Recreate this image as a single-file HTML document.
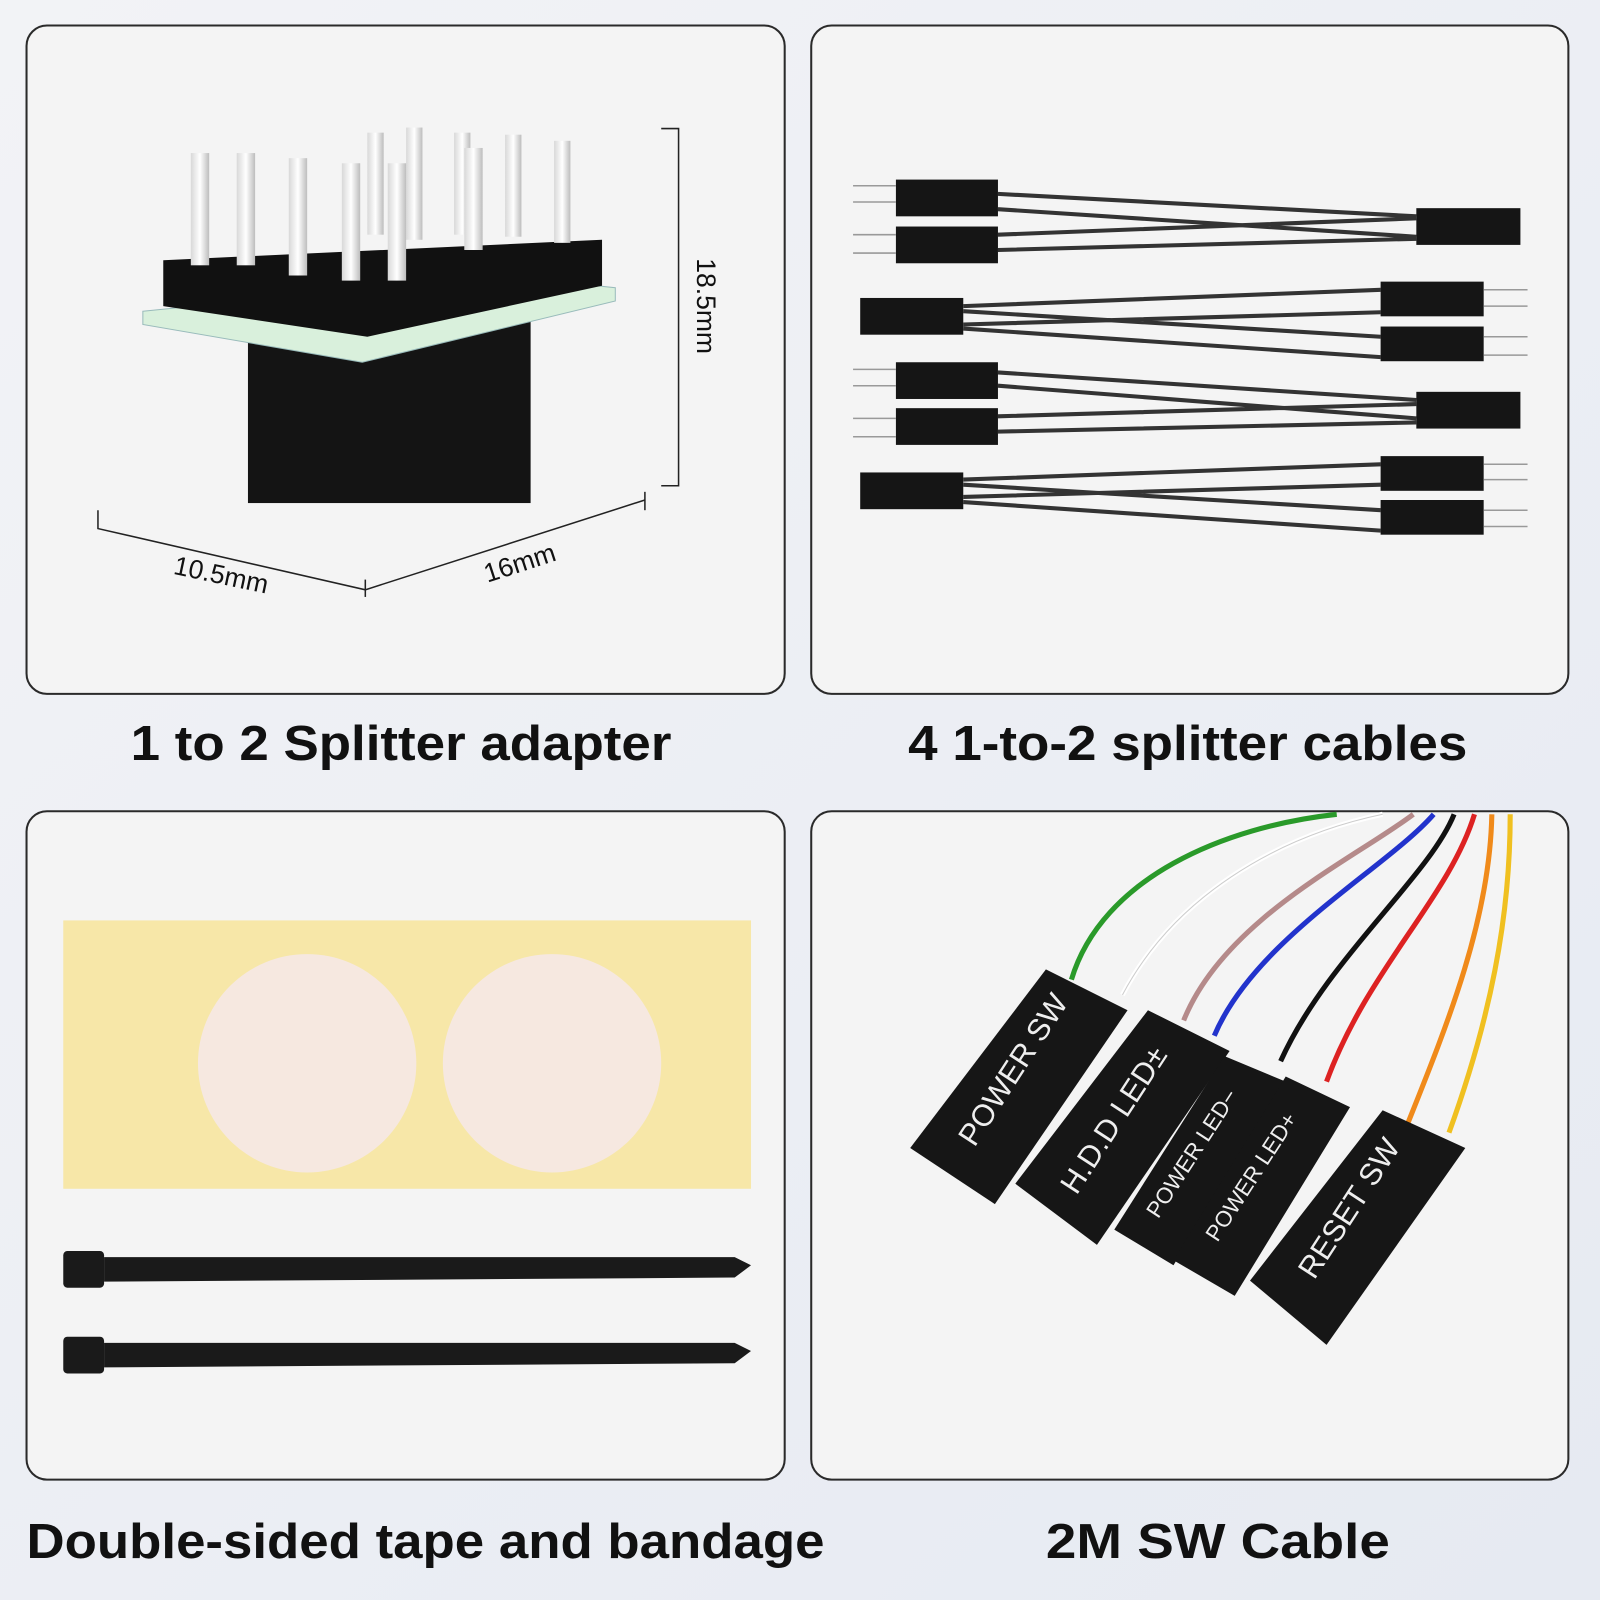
<!DOCTYPE html>
<html><head><meta charset="utf-8"><style>
html,body{margin:0;padding:0;width:1600px;height:1600px;overflow:hidden;background:#eef0f5}
svg{display:block}
text{font-family:"Liberation Sans",sans-serif}
</style></head><body>
<svg width="1600" height="1600" viewBox="0 0 1568 1568" xmlns="http://www.w3.org/2000/svg">
<defs>
<linearGradient id="bg" x1="0" y1="0" x2="1" y2="1"><stop offset="0" stop-color="#f2f3f6"/><stop offset="1" stop-color="#e6eaf2"/></linearGradient>
<linearGradient id="pin" x1="0" x2="1"><stop offset="0" stop-color="#d8d8d8"/><stop offset="0.5" stop-color="#ffffff"/><stop offset="1" stop-color="#bdbdbd"/></linearGradient>
</defs>
<rect width="1568" height="1568" fill="url(#bg)"/>
<g fill="#f4f4f4" stroke="#2a2a2a" stroke-width="2">
<rect x="26" y="25" width="743" height="655" rx="20"/>
<rect x="795" y="25" width="742" height="655" rx="20"/>
<rect x="26" y="795" width="743" height="655" rx="20"/>
<rect x="795" y="795" width="742" height="655" rx="20"/>
</g>
<g font-weight="bold" font-size="48" fill="#111" lengthAdjust="spacingAndGlyphs">
<text x="128" y="745" textLength="530" lengthAdjust="spacingAndGlyphs">1 to 2 Splitter adapter</text>
<text x="890" y="745" textLength="548" lengthAdjust="spacingAndGlyphs">4 1-to-2 splitter cables</text>
<text x="26" y="1527" textLength="782" lengthAdjust="spacingAndGlyphs">Double-sided tape and bandage</text>
<text x="1025" y="1527" textLength="337" lengthAdjust="spacingAndGlyphs">2M SW Cable</text>
</g>
<!-- adapter -->
<rect x="243" y="310" width="277" height="183" fill="#141414"/>
<polygon points="140,305 490,270 603,282 603,295 355,355 140,318" fill="#d9f0dc" stroke="#9bb"/>
<polygon points="160,255 590,235 590,280 360,330 160,300" fill="#111"/>
<g fill="url(#pin)">
<rect x="187" y="150" width="18" height="110"/><rect x="232" y="150" width="18" height="110"/><rect x="283" y="155" width="18" height="115"/><rect x="335" y="160" width="18" height="115"/>
<rect x="360" y="130" width="16" height="100"/><rect x="398" y="125" width="16" height="110"/><rect x="445" y="130" width="16" height="100"/><rect x="495" y="132" width="16" height="100"/><rect x="543" y="138" width="16" height="100"/>
<rect x="380" y="160" width="18" height="115"/><rect x="455" y="145" width="18" height="100"/>
</g>
<g stroke="#222" stroke-width="1.5" fill="none">
<path d="M648 126 H665 V476 H648"/><path d="M96 500 V518 L358 578 L632 490"/><path d="M358 568 V585"/><path d="M632 482 V500"/>
</g>
<text x="683" y="300" font-size="26" transform="rotate(90 683 300)" text-anchor="middle" fill="#111">18.5mm</text>
<text x="215" y="572" font-size="26" transform="rotate(12 215 572)" text-anchor="middle" fill="#111">10.5mm</text>
<text x="512" y="560" font-size="26" transform="rotate(-18 512 560)" text-anchor="middle" fill="#111">16mm</text>
<!-- splitter cables -->
<g stroke="#333" stroke-width="4" fill="none">
<path d="M978 190 L1388 212 M978 205 L1388 232 M978 230 L1388 214 M978 245 L1388 234"/>
<path d="M944 300 L1353 284 M944 318 L1353 306 M944 305 L1353 330 M944 322 L1353 350"/>
<path d="M978 365 L1388 392 M978 378 L1388 410 M978 408 L1388 396 M978 423 L1388 414"/>
<path d="M944 470 L1353 455 M944 487 L1353 475 M944 475 L1353 500 M944 492 L1353 520"/>
</g>
<g fill="#151515">
<rect x="878" y="176" width="100" height="36"/><rect x="878" y="222" width="100" height="36"/><rect x="1388" y="204" width="102" height="36"/>
<rect x="843" y="292" width="101" height="36"/><rect x="1353" y="276" width="101" height="34"/><rect x="1353" y="320" width="101" height="34"/>
<rect x="878" y="355" width="100" height="36"/><rect x="878" y="400" width="100" height="36"/><rect x="1388" y="384" width="102" height="36"/>
<rect x="843" y="463" width="101" height="36"/><rect x="1353" y="447" width="101" height="34"/><rect x="1353" y="490" width="101" height="34"/>
</g>
<g stroke="#999" stroke-width="1.5">
<path d="M836 182 H878 M836 198 H878 M836 230 H878 M836 248 H878 M836 362 H878 M836 378 H878 M836 410 H878 M836 428 H878 M1454 284 H1497 M1454 300 H1497 M1454 330 H1497 M1454 348 H1497 M1454 455 H1497 M1454 470 H1497 M1454 500 H1497 M1454 516 H1497"/>
</g>
<!-- tape -->
<rect x="62" y="902" width="674" height="263" fill="#f7e7a8"/>
<circle cx="301" cy="1042" r="107" fill="#f6e8e0"/><circle cx="541" cy="1042" r="107" fill="#f6e8e0"/>
<g fill="#1a1a1a">
<rect x="62" y="1226" width="40" height="36" rx="4"/><polygon points="102,1232 720,1232 736,1240 720,1252 102,1256"/>
<rect x="62" y="1310" width="40" height="36" rx="4"/><polygon points="102,1316 720,1316 736,1324 720,1336 102,1340"/>
</g>
<!-- SW cable wires -->
<g fill="none" stroke-width="5">
<path d="M1050 960 C1080 860 1200 810 1310 798" stroke="#2a9a2a"/>
<path d="M1100 975 C1150 880 1250 820 1355 798" stroke="#fff"/><path d="M1100 975 C1150 880 1250 820 1355 798" stroke="#ccc" stroke-width="1"/>
<path d="M1160 1000 C1200 900 1330 840 1385 798" stroke="#b58a8a"/>
<path d="M1190 1015 C1230 920 1360 850 1405 798" stroke="#2233cc"/>
<path d="M1255 1040 C1300 940 1400 860 1425 798" stroke="#111"/>
<path d="M1300 1060 C1340 950 1420 880 1445 798" stroke="#dd2222"/>
<path d="M1380 1100 C1420 1000 1460 900 1462 798" stroke="#f08a1a"/>
<path d="M1420 1110 C1460 1000 1480 900 1480 798" stroke="#f0c020"/>
</g>
<g fill="#161616">
<polygon points="892,1125 1025,950 1105,990 975,1180"/>
<polygon points="995,1160 1125,990 1205,1030 1075,1220"/>
<polygon points="1092,1205 1200,1035 1260,1060 1150,1240"/>
<polygon points="1150,1235 1260,1055 1323,1085 1210,1270"/>
<polygon points="1225,1255 1355,1088 1436,1125 1300,1318"/>
</g>
<g fill="#eee" font-size="30">
<text transform="translate(955,1125) rotate(-57)">POWER SW</text>
<text transform="translate(1055,1172) rotate(-57)">H.D.D LED±</text>
<text transform="translate(1135,1195) rotate(-57)" font-size="22">POWER LED−</text>
<text transform="translate(1193,1218) rotate(-57)" font-size="22">POWER LED+</text>
<text transform="translate(1288,1255) rotate(-57)">RESET SW</text>
</g>
</svg>
</body></html>
